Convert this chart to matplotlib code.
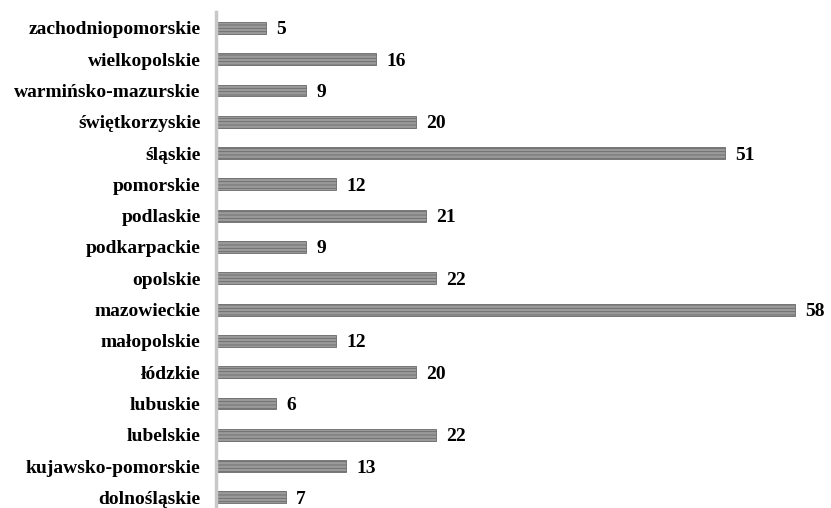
import matplotlib.pyplot as plt

# Counts per voivodeship (drawn bottom to top)
regions = ['dolnośląskie', 'kujawsko-pomorskie', 'lubelskie', 'lubuskie', 'łódzkie',
           'małopolskie', 'mazowieckie', 'opolskie', 'podkarpackie', 'podlaskie',
           'pomorskie', 'śląskie', 'świętkorzyskie', 'warmińsko-mazurskie',
           'wielkopolskie', 'zachodniopomorskie']
counts = [7, 13, 22, 6, 20, 12, 58, 22, 9, 21, 12, 51, 20, 9, 16, 5]

plt.rcParams['font.family'] = ['Liberation Serif', 'DejaVu Serif']
plt.rcParams['font.weight'] = 'bold'
plt.rcParams['hatch.linewidth'] = 0.6

fig = plt.figure(figsize=(8.31, 5.08), dpi=100)
ax = fig.add_axes([216 / 831, -0.010, 609 / 831, 0.986])

ypos = range(len(regions))
ax.barh(ypos, counts, height=0.38, color='#9a9a9a', edgecolor='#6a6a6a',
        linewidth=0.6, hatch='-----')

for y, v in zip(ypos, counts):
    ax.annotate(str(v), (v, y), xytext=(7.5, 0), textcoords='offset points',
                va='center_baseline', ha='left', fontsize=14, fontweight='bold')

ax.set_xlim(0, 61)
ax.set_ylim(-0.5, len(regions) - 0.5)
ax.set_yticks(list(ypos))
ax.set_yticklabels(regions, fontsize=14, fontweight='bold')
ax.tick_params(axis='y', length=0, pad=11)
ax.set_xticks([])

for side in ['top', 'right', 'bottom']:
    ax.spines[side].set_visible(False)
ax.spines['left'].set_color('#c8c8c8')
ax.spines['left'].set_linewidth(2.5)

fig.savefig('out.png', dpi=100)
